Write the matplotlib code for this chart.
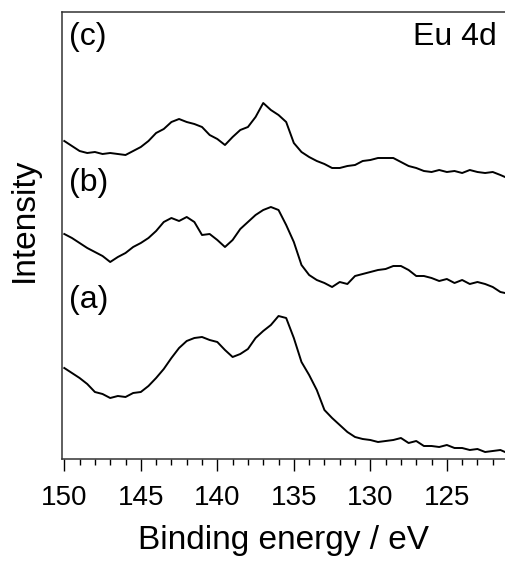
import numpy as np
import matplotlib
matplotlib.use("Agg")
import matplotlib.pyplot as plt
from matplotlib.ticker import MultipleLocator

plt.rcParams["font.family"] = ["Liberation Sans", "DejaVu Sans"]

# binding energy grid (eV)
energy = [150, 149.5, 149, 148.5, 148, 147.5, 147, 146.5, 146, 145.5,
          145, 144.5, 144, 143.5, 143, 142.5, 142, 141.5, 141, 140.5,
          140, 139.5, 139, 138.5, 138, 137.5, 137, 136.5, 136, 135.5,
          135, 134.5, 134, 133.5, 133, 132.5, 132, 131.5, 131, 130.5,
          130, 129.5, 129, 128.5, 128, 127.5, 127, 126.5, 126, 125.5,
          125, 124.5, 124, 123.5, 123, 122.5, 122, 121.5, 121.2]

# offset intensities (arb. units)
spec_a = [91, 86, 81, 75, 67, 65, 61, 63, 62, 66,
          67, 73, 81, 90, 101, 111, 118, 121, 122, 119,
          117, 109, 102, 105, 110, 121, 128, 134, 143, 141,
          121, 97, 84, 69, 49, 41, 34, 27, 22, 20,
          19, 17, 18, 19, 21, 16, 18, 13, 13, 12,
          14, 11, 11, 9, 10, 7, 8, 9, 7]

spec_b = [225, 221, 216, 211, 207, 203, 197, 202, 206, 212,
          216, 221, 228, 237, 241, 238, 242, 237, 224, 225,
          219, 212, 219, 230, 237, 244, 249, 252, 249, 234,
          217, 194, 184, 179, 176, 172, 177, 175, 183, 185,
          187, 189, 190, 193, 193, 189, 183, 183, 181, 178,
          180, 176, 179, 175, 177, 175, 172, 167, 166]

spec_c = [318, 313, 308, 306, 307, 305, 306, 305, 304, 308,
          312, 318, 326, 330, 337, 340, 337, 335, 332, 324,
          320, 314, 322, 329, 332, 342, 356, 349, 344, 337,
          316, 307, 302, 298, 295, 291, 291, 293, 294, 298,
          299, 301, 301, 301, 297, 293, 291, 288, 287, 289,
          287, 288, 286, 289, 287, 286, 287, 284, 282]

fig = plt.figure(figsize=(5.05, 5.62), dpi=100)
ax = fig.add_axes([62 / 505, 1 - 459 / 562, 1 - 62 / 505, (459 - 12) / 562])

for spec in (spec_a, spec_b, spec_c):
    ax.plot(energy, spec, color="black", lw=1.4)

ax.set_xlim(150.15, 121.2)
ax.set_ylim(0, 447)
ax.set_yticks([])
ax.xaxis.set_major_locator(MultipleLocator(5))
ax.xaxis.set_minor_locator(MultipleLocator(1))
ax.tick_params(axis="x", which="major", direction="out", length=8.5, width=1,
               labelsize=20, pad=10)
ax.tick_params(axis="x", which="minor", direction="out", length=4.3, width=1)
ax.spines["right"].set_visible(False)
for s in ("left", "bottom", "top"):
    ax.spines[s].set_linewidth(1.1)
    ax.spines[s].set_color("#333333")

ax.set_xlabel("Binding energy / eV", fontsize=24, labelpad=10)
ax.set_ylabel("Intensity", fontsize=24)
ax.yaxis.set_label_coords(-0.05, 0.535)

for lab, ypos in (("(c)", 0.978), ("(b)", 0.651), ("(a)", 0.389)):
    ax.text(0.016, ypos, lab, transform=ax.transAxes, fontsize=23,
            ha="left", va="top")
ax.text(0.982, 0.978, "Eu 4d", transform=ax.transAxes, fontsize=23,
        ha="right", va="top")

fig.savefig("out.png", dpi=100)
